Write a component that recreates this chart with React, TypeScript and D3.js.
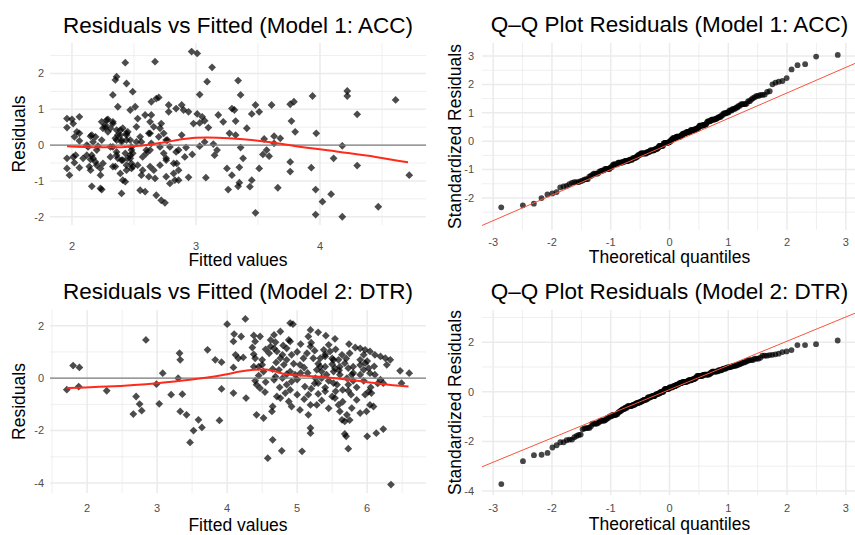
import React from "react";
import * as d3 from "d3";

// Model 1 (ACC): [fitted, residual]
const accPoints: [number, number][] = [
  [1.96,0.74],[1.96,0.49],[2.0,0.72],[2.01,0.6],[2.06,0.79],[2.04,0.37],[2.02,0.23],[2.06,0.33],[2.06,0.12],[1.96,-0.37],
  [1.96,-0.65],[1.98,-0.84],[2.01,-0.33],[2.02,-0.49],[2.03,-0.28],[2.06,-0.63],[2.09,-0.37],[2.12,-0.28],[2.15,0.25],[2.16,0.28],
  [2.19,0.23],[2.12,0.0],[2.13,-0.05],[2.16,-0.28],[2.15,-0.4],[2.17,-0.37],[2.14,-0.6],[2.15,-0.7],[2.16,-1.15],[2.19,-0.47],
  [2.2,-0.56],[2.23,-1.21],[2.24,-1.24],[2.23,-0.84],[2.23,-0.65],[2.25,-0.51],[2.21,-0.03],[2.24,0.14],[2.24,0.65],[2.25,0.47],
  [2.27,0.56],[2.28,0.7],[2.29,0.37],[2.31,0.47],[2.33,0.65],[2.31,-0.33],[2.33,-0.05],[2.35,-0.6],[2.36,-0.19],[2.37,-0.37],
  [2.33,1.4],[2.36,1.91],[2.35,1.82],[2.37,1.07],[2.35,0.19],[2.37,0.28],[2.39,0.42],[2.4,0.14],[2.39,-0.79],[2.4,-1.35],
  [2.41,-0.98],[2.43,-1.02],[2.41,-0.42],[2.43,2.3],[2.44,1.72],[2.47,0.98],[2.44,0.28],[2.45,0.37],[2.47,0.14],[2.48,-0.14],
  [2.47,-0.28],[2.45,-0.37],[2.48,-0.51],[2.48,-0.65],[2.44,-0.56],[2.49,1.49],[2.51,1.07],[2.49,-0.23],[2.52,0.51],[2.53,0.74],
  [2.55,0.23],[2.56,0.09],[2.56,-0.84],[2.55,-1.26],[2.59,-1.3],[2.62,-0.88],[2.6,-0.23],[2.63,-0.14],[2.63,0.65],[2.64,1.21],
  [2.67,2.33],[2.64,0.84],[2.62,0.33],[2.59,0.84],[2.68,1.3],[2.7,1.33],[2.66,-0.7],[2.67,-0.93],[2.68,-1.4],[2.71,-0.56],
  [2.72,-1.54],[2.75,-1.61],[2.71,0.47],[2.72,0.6],[2.74,0.33],[2.76,0.14],[2.76,-0.37],[2.78,1.12],[2.78,0.93],[2.76,-0.88],
  [2.79,-1.07],[2.82,-0.79],[2.83,-0.98],[2.84,1.02],[2.84,-0.19],
  [2.27,0.49],[2.29,0.72],[2.33,0.6],[2.36,0.42],[2.39,0.28],[2.41,0.47],[2.44,0.33],[2.36,0.14],[2.4,0.09],[2.44,0.14],
  [2.48,-0.05],[2.52,0.09],[2.36,-0.28],[2.4,-0.42],[2.43,-0.23],[2.47,-0.37],[2.49,-0.6],[2.53,-0.56],[2.57,-0.33],[2.6,-0.14],
  [2.64,0.05],[2.63,0.33],[2.66,0.51],[2.7,0.23],[2.71,-0.05],[2.74,-0.23],[2.76,-0.42],[2.79,-0.05],[2.82,-0.51],[2.77,0.14],
  [2.33,-0.6],[2.57,-0.7],[2.63,-0.6],[2.44,-0.7],[2.31,-0.05],[2.17,0.09],[2.2,-0.14],
  [2.965,2.61],[3.01,2.56],[3.13,2.17],[3.09,1.77],[3.03,1.41],[2.885,1.12],[2.9,0.98],[2.94,0.93],[3.01,0.87],[3.05,0.79],
  [3.03,0.62],[2.98,0.6],[3.07,0.68],[3.1,0.49],[2.885,0.28],[2.86,-0.14],[2.92,-0.07],[2.91,-0.33],[2.97,-0.26],[3.03,-0.03],
  [3.07,0.09],[3.14,0.03],[3.17,-0.14],[3.15,-0.28],[2.845,-0.51],[2.86,-0.7],[2.86,-0.98],[2.94,-0.9],[3.08,-0.91],[3.18,0.84],
  [3.22,0.65],[3.27,0.33],[3.29,1.02],[3.31,0.98],[3.34,1.8],[3.36,1.4],[3.32,0.67],[3.32,0.28],[3.41,0.47],[3.36,-0.07],
  [3.38,-0.37],[3.25,-0.65],[3.29,-0.84],[3.35,-0.62],[3.34,-1.15],[3.26,-1.24],[3.35,-1.05],[3.435,-1.16],[3.45,-0.98],[3.48,-1.89],
  [3.48,1.12],[3.45,0.87],[3.51,0.93],[3.51,-0.65],[3.54,-0.26],[3.59,-0.31],[3.57,-0.14],[3.55,0.17],[3.61,1.12],[3.63,0.25],
  [3.63,0.05],[3.68,0.19],[3.66,-1.19],[3.76,-0.47],[3.76,-0.74],[3.76,1.14],[3.77,0.67],[3.79,1.21],[3.8,0.37],
  [3.94,1.37],[3.97,0.33],[3.93,-0.63],[3.965,-1.24],[4.02,-1.58],[3.965,-1.94],[4.09,-1.37],[4.11,-0.37],[4.18,-0.02],[4.18,-2.0],
  [4.22,1.51],[4.22,1.37],[4.3,0.86],[4.3,-0.57],[4.47,-1.72],[4.61,1.26],[4.72,-0.84],
];

// Model 2 (DTR): [fitted, residual]
const dtrPoints: [number, number][] = [
  [1.71,-0.44],[1.8,0.48],[1.89,0.41],[1.88,-0.32],[2.28,-0.48],[2.84,1.46],[2.7,-0.7],[2.75,-0.99],[2.78,-1.24],[2.66,-1.37],
  [2.99,-0.23],[3.03,-0.98],[3.08,0.19],[3.2,-0.63],[3.3,0.0],[3.32,0.95],[3.33,0.7],[3.36,-0.61],[3.33,-1.27],[3.42,-1.4],
  [3.47,-2.45],[3.52,-2.0],[3.59,-1.59],[3.64,-1.88],[3.72,1.08],[3.83,0.7],[3.92,0.61],[3.92,-0.41],[3.89,-1.61],[4.0,2.06],
  [4.26,2.26],[4.1,1.68],[4.2,1.59],[4.09,1.4],[4.12,0.89],[4.16,0.76],[4.23,0.79],[4.09,0.41],[4.09,-0.57],[4.27,-0.76],
  [4.38,1.63],[4.4,1.4],[4.36,1.17],[4.38,0.91],[4.4,0.76],[4.38,0.44],[4.45,0.44],[4.47,1.59],[4.5,0.51],[4.52,0.25],
  [4.4,-0.1],[4.42,-0.25],[4.47,-0.38],[4.54,-0.53],[4.42,-1.4],[4.52,-1.52],[4.64,-1.27],[4.65,-1.08],[4.65,-2.35],[4.58,-3.05],
  [4.78,-2.77],[4.62,1.46],[4.67,1.65],[4.69,1.37],[4.62,1.21],[4.67,1.14],[4.71,1.02],[4.76,1.78],[4.79,0.89],[4.76,0.76],
  [4.81,0.51],[4.74,0.32],[4.69,0.06],[4.79,0.0],[4.71,-0.7],[4.76,-0.76],[4.83,-0.57],[4.67,-0.06],[4.85,-0.25],[4.92,-0.13],
  [4.9,2.1],[4.94,2.06],[4.88,1.46],[4.9,1.4],[4.85,1.14],[4.92,0.89],[4.9,0.25],[4.97,0.13],[4.88,-0.89],[4.92,-1.08],
  [5.04,-1.21],[5.07,-2.79],[5.0,-0.63],[5.11,-0.32],[5.16,-0.63],[5.19,-1.02],[5.16,-1.4],[5.19,-1.9],[5.19,-2.1],[5.04,0.51],
  [5.09,0.76],[5.14,0.95],[5.19,1.84],[5.16,1.59],[5.19,1.21],[5.23,0.76],[5.28,0.32],[5.26,0.0],[5.28,-1.02],
  [5.3,1.75],[5.41,1.62],[5.54,1.5],[5.45,1.27],[5.38,1.08],[5.47,1.02],[5.33,0.76],[5.4,0.83],[5.52,0.7],[5.59,0.7],
  [5.64,0.89],[5.33,0.44],[5.4,0.44],[5.5,0.53],[5.54,0.38],[5.61,0.44],[5.68,0.57],[5.73,0.38],[5.8,0.44],[5.78,0.13],
  [5.71,0.0],[5.61,0.13],[5.52,0.25],[5.42,0.13],[5.35,0.0],[5.3,-0.19],[5.4,-0.36],[5.52,-0.19],[5.57,-0.25],[5.73,-0.25],
  [5.74,1.3],[5.83,1.17],[5.9,1.14],[5.97,1.08],[6.04,1.02],[6.11,0.89],[6.19,0.83],[6.26,0.76],[5.95,0.89],[5.9,0.7],
  [5.97,0.57],[6.02,0.38],[5.95,0.32],[5.9,0.13],[6.04,0.19],[6.11,0.13],[6.19,-0.06],[6.23,-0.19],[6.33,0.7],[6.28,0.51],
  [6.47,0.28],[6.6,0.19],[6.49,-0.19],[5.73,-0.48],[5.77,-0.63],[5.5,-0.7],[5.54,-0.76],[5.59,-1.02],[5.61,-1.27],[5.71,-1.4],
  [5.64,-1.59],[5.68,-1.65],[5.78,-1.14],[5.85,-0.83],[5.9,-1.33],[5.97,-0.63],[6.02,-0.51],[6.06,-0.57],[5.99,-1.27],[6.04,-1.02],
  [6.09,-1.08],[5.68,-2.13],[5.7,-2.22],[5.73,-2.69],[6.0,-2.22],[6.13,-2.1],[6.23,-1.94],[6.34,-4.06],
  [4.55,1.1],[4.6,0.95],[4.7,0.6],[4.8,1.25],[4.85,0.7],[4.95,0.55],[5.0,1.0],[5.05,1.3],[5.1,0.4],[5.15,0.2],
  [5.2,1.35],[5.25,1.05],[5.3,0.55],[5.35,0.25],[5.4,0.9],[5.45,-0.1],[5.5,0.75],[5.55,1.1],[5.6,0.3],[5.65,-0.45],
  [5.7,0.75],[5.75,0.95],[5.8,0.2],[5.85,-0.35],[5.9,0.5],[5.95,-0.1],[6.0,0.65],[6.05,-0.35],[6.1,0.45],[6.15,-0.2],
  [4.65,0.35],[4.75,-0.35],[4.9,-0.45],[5.0,-0.05],[5.1,-0.8],[5.2,-0.4],[5.3,-0.6],[5.35,-0.85],[5.45,-1.15],[5.55,-0.5],
  [5.65,-0.9],[5.75,-1.6],[5.8,-0.1],[4.45,0.1],[4.5,0.7],[4.55,-0.15],[4.85,0.15],[5.05,0.2],[5.25,-0.2],[5.4,-0.5],
];

// loess smooth
const accSmooth: [number, number][] = [
  [1.96,-0.03],[2.2,-0.06],[2.4,-0.06],[2.57,-0.01],[2.75,0.08],[2.9,0.17],[3.09,0.21],[3.27,0.19],[3.45,0.14],
  [3.6,0.08],[3.81,-0.03],[4.16,-0.19],[4.45,-0.33],[4.71,-0.48],
];
const dtrSmooth: [number, number][] = [
  [1.71,-0.38],[2.28,-0.32],[3.0,-0.19],[3.47,-0.06],[3.9,0.1],[4.19,0.25],[4.38,0.32],[4.55,0.33],[4.66,0.27],
  [4.85,0.15],[5.14,0.09],[5.33,0.05],[5.73,-0.06],[6.21,-0.22],[6.59,-0.32],
];

// Q-Q reference lines: [intercept, slope]
const accQQLine: [number, number] = [-0.1, 0.9];
const dtrQQLine: [number, number] = [0.09, 0.976];

// tick values
const accFitTicks = [2, 3, 4];
const accResTicks = [-2, -1, 0, 1, 2];
const dtrFitTicks = [2, 3, 4, 5, 6];
const dtrResTicks = [-4, -2, 0, 2];
const qqXTicks = [-3, -2, -1, 0, 1, 2, 3];
const accQQYTicks = [-2, -1, 0, 1, 2, 3];
const dtrQQYTicks = [-4, -2, 0, 2];

const FONT = "'Liberation Sans', Arial, Helvetica, sans-serif";
const GRID = "#EBEBEB";
const TICK_COL = "#4D4D4D";
const TITLE_SIZE = 22.5;
const LAB_SIZE = 17.5;
const TICK_SIZE = 11;

function qnorm(p: number): number {
  const a = [-39.69683028665376, 220.9460984245205, -275.9285104469687, 138.357751867269, -30.66479806614716, 2.506628277459239];
  const b = [-54.47609879822406, 161.5858368580409, -155.6989798598866, 66.80131188771972, -13.28068155288572];
  const c = [-0.007784894002430293, -0.3223964580411365, -2.400758277161838, -2.549732539343734, 4.374664141464968, 2.938163982698783];
  const d = [0.007784695709041462, 0.3224671290700398, 2.445134137142996, 3.754408661907416];
  const pl = 0.02425;
  if (p < pl) {
    const q = Math.sqrt(-2 * Math.log(p));
    return (((((c[0] * q + c[1]) * q + c[2]) * q + c[3]) * q + c[4]) * q + c[5]) / ((((d[0] * q + d[1]) * q + d[2]) * q + d[3]) * q + 1);
  }
  if (p > 1 - pl) return -qnorm(1 - p);
  const q = p - 0.5, r = q * q;
  return ((((((a[0] * r + a[1]) * r + a[2]) * r + a[3]) * r + a[4]) * r + a[5]) * q) / (((((b[0] * r + b[1]) * r + b[2]) * r + b[3]) * r + b[4]) * r + 1);
}

// standardized residuals vs theoretical normal quantiles
function qqPoints(pts: [number, number][]): [number, number][] {
  const res = pts.map((p) => p[1]);
  const sd = d3.deviation(res) || 1;
  const s = res.map((r) => r / sd).sort(d3.ascending);
  const n = s.length;
  return s.map((v, i) => [qnorm((i + 0.5) / n), v]);
}

function minorOf(ticks: number[], dom: number[]) {
  const step = ticks[1] - ticks[0];
  const out: number[] = [];
  for (let i = -1; i < ticks.length; i++) {
    const v = ticks[0] + step * (i + 0.5);
    if (v >= dom[0] && v <= dom[1]) out.push(v);
  }
  return out;
}

type Box = { left: number; right: number; top: number; bottom: number };

function Frame({ box, x, y, xTicks, yTicks, title, xLab, yLab, tickY, xLabY, yLabX, tickX, titleY }: any) {
  const xd = x.domain(), yd = y.domain();
  return (
    <g>
      {minorOf(xTicks, xd).map((v: number) => (
        <line key={"mx" + v} x1={x(v)} x2={x(v)} y1={box.top} y2={box.bottom} stroke={GRID} strokeWidth={0.8} />
      ))}
      {minorOf(yTicks, yd).map((v: number) => (
        <line key={"my" + v} y1={y(v)} y2={y(v)} x1={box.left} x2={box.right} stroke={GRID} strokeWidth={0.8} />
      ))}
      {xTicks.map((v: number) => (
        <line key={"x" + v} x1={x(v)} x2={x(v)} y1={box.top} y2={box.bottom} stroke={GRID} strokeWidth={1.5} />
      ))}
      {yTicks.map((v: number) => (
        <line key={"y" + v} y1={y(v)} y2={y(v)} x1={box.left} x2={box.right} stroke={GRID} strokeWidth={1.5} />
      ))}
      {xTicks.map((v: number) => (
        <text key={"tx" + v} x={x(v)} y={tickY} textAnchor="middle" fontSize={TICK_SIZE} fill={TICK_COL} fontFamily={FONT}>
          {v}
        </text>
      ))}
      {yTicks.map((v: number) => (
        <text key={"ty" + v} x={tickX} y={y(v)} dy="0.35em" textAnchor="end" fontSize={TICK_SIZE} fill={TICK_COL} fontFamily={FONT}>
          {v}
        </text>
      ))}
      <text x={(box.left + box.right) / 2} y={titleY} textAnchor="middle" fontSize={TITLE_SIZE} fontFamily={FONT} fill="#000">
        {title}
      </text>
      <text x={(box.left + box.right) / 2} y={xLabY} textAnchor="middle" fontSize={LAB_SIZE} fontFamily={FONT} fill="#000">
        {xLab}
      </text>
      <text
        transform={`translate(${yLabX},${(box.top + box.bottom) / 2}) rotate(-90)`}
        textAnchor="middle"
        fontSize={LAB_SIZE}
        fontFamily={FONT}
        fill="#000"
      >
        {yLab}
      </text>
    </g>
  );
}

function ResidPanel({ box, xDom, yDom, pts, smooth, xTicks, yTicks, title, tickY, xLabY, titleY }: any) {
  const x = d3.scaleLinear().domain(xDom).range([box.left, box.right]);
  const y = d3.scaleLinear().domain(yDom).range([box.bottom, box.top]);
  const line = d3.line<[number, number]>().x((d) => x(d[0])).y((d) => y(d[1])).curve(d3.curveMonotoneX);
  const r = 3.9;
  return (
    <g>
      <Frame box={box} x={x} y={y} xTicks={xTicks} yTicks={yTicks} title={title} xLab="Fitted values" yLab="Residuals"
        tickY={tickY} xLabY={xLabY} yLabX={box.left - 25.5} tickX={box.left - 6} titleY={titleY} />
      {pts.map((p: [number, number], i: number) => (
        <path key={i} d={`M${x(p[0])},${y(p[1]) - r}l${r},${r}l${-r},${r}l${-r},${-r}z`} fill="#000" fillOpacity={0.7} />
      ))}
      <line x1={box.left} x2={box.right} y1={y(0)} y2={y(0)} stroke="#7F7F7F" strokeWidth={1.3} />
      <path d={line(smooth) || ""} fill="none" stroke="#FF2A1A" strokeWidth={2} />
    </g>
  );
}

function QQPanel({ box, xDom, yDom, pts, qline, yTicks, title, tickY, xLabY, titleY }: any) {
  const x = d3.scaleLinear().domain(xDom).range([box.left, box.right]);
  const y = d3.scaleLinear().domain(yDom).range([box.bottom, box.top]);
  const q = qqPoints(pts);
  const [b0, b1] = qline;
  return (
    <g>
      <Frame box={box} x={x} y={y} xTicks={qqXTicks} yTicks={yTicks} title={title} xLab="Theoretical quantiles"
        yLab="Standardized Residuals" tickY={tickY} xLabY={xLabY} yLabX={box.left - 21.5} tickX={box.left - 8} titleY={titleY} />
      {q.map((p, i) => (
        <circle key={i} cx={x(p[0])} cy={y(p[1])} r={2.9} fill="#000" fillOpacity={0.72} />
      ))}
      <line x1={x(xDom[0])} y1={y(b0 + b1 * xDom[0])} x2={x(xDom[1])} y2={y(b0 + b1 * xDom[1])} stroke="#F8553C" strokeWidth={1} />
    </g>
  );
}

export default function App() {
  const b1: Box = { left: 50, right: 426, top: 43, bottom: 225 };
  const b2: Box = { left: 482, right: 857, top: 43, bottom: 230 };
  const b3: Box = { left: 50, right: 426, top: 310, bottom: 493 };
  const b4: Box = { left: 482, right: 857, top: 310, bottom: 495 };
  return (
    <div style={{ position: "absolute", left: 0, top: 0 }}>
      <svg width={855} height={535} style={{ display: "block", background: "#fff" }}>
        <ResidPanel box={b1} xDom={[1.823, 4.855]} yDom={[-2.23, 2.85]} pts={accPoints} smooth={accSmooth}
          xTicks={accFitTicks} yTicks={accResTicks} title="Residuals vs Fitted (Model 1: ACC)" tickY={249.5} xLabY={266} titleY={32.5} />
        <QQPanel box={b2} xDom={[-3.19, 3.19]} yDom={[-3.13, 3.46]} pts={accPoints} qline={accQQLine}
          yTicks={accQQYTicks} title="Q–Q Plot Residuals (Model 1: ACC)" tickY={245.5} xLabY={263} titleY={32} />
        <ResidPanel box={b3} xDom={[1.47, 6.84]} yDom={[-4.38, 2.6]} pts={dtrPoints} smooth={dtrSmooth}
          xTicks={dtrFitTicks} yTicks={dtrResTicks} title="Residuals vs Fitted (Model 2: DTR)" tickY={512} xLabY={531} titleY={298.5} />
        <QQPanel box={b4} xDom={[-3.19, 3.19]} yDom={[-4.16, 3.3]} pts={dtrPoints} qline={dtrQQLine}
          yTicks={dtrQQYTicks} title="Q–Q Plot Residuals (Model 2: DTR)" tickY={512} xLabY={529.5} titleY={298.5} />
      </svg>
    </div>
  );
}
